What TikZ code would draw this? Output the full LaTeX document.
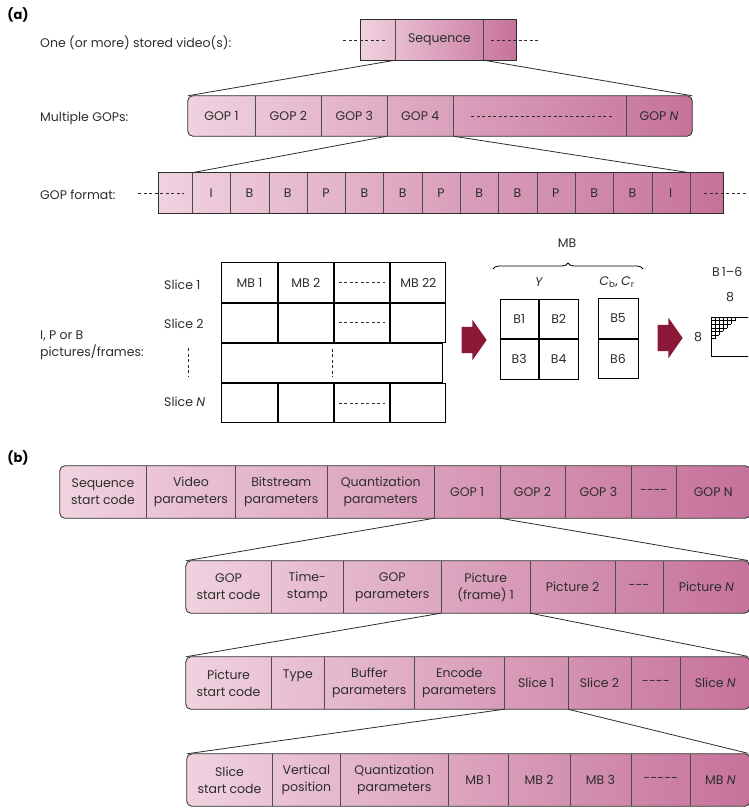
\documentclass[tikz,border=0pt]{standalone}
\usepackage{fontspec}
\setmainfont{Poppins}
\usetikzlibrary{positioning,backgrounds,shapes.arrows,decorations.pathreplacing}
\definecolor{pinklight}{RGB}{240,210,223}
\definecolor{pinkdark}{RGB}{198,114,154}
\definecolor{arrowred}{RGB}{140,24,56}
\definecolor{inkgray}{RGB}{45,45,45}

\begin{document}
\begin{tikzpicture}[x=1pt, y=-1pt, node distance=0pt, inner sep=0pt, text=inkgray,
        font=\fontsize{12.5}{17}\selectfont,
        cell/.style={minimum height=40pt, align=center},
        tallcell/.style={minimum height=52pt, align=center},
        bar/.style={draw=inkgray, line width=0.8pt, left color=pinklight, right color=pinkdark},
        roundbar/.style={bar, rounded corners=5pt},
        divider/.style={draw=inkgray!85, line width=0.6pt},
        dashes/.style={draw=inkgray, line width=0.9pt, dash pattern=on 3pt off 2.5pt},
        fan/.style={draw=inkgray, line width=0.8pt},
        tab/.style={draw=black, line width=1pt, minimum width=55.25pt, minimum height=39.25pt},
        blockarrow/.style={single arrow, fill=arrowred, minimum height=25pt, minimum width=40pt,
            inner xsep=0pt, inner ysep=13pt, single arrow head extend=7pt, single arrow tip angle=110},
        leftlabel/.style={anchor=west, align=left},
        partlabel/.style={font=\bfseries\fontsize{13}{15}\selectfont, text=black}]
        \path[use as bounding box] (0,0) rectangle (748,808);
        \clip (0,0) rectangle (748,808);

        % (a) stored video
        \node[partlabel] (parta) at (18,15) {(a)};
        \node[leftlabel] (vidtxt) at (40,43) {One (or more) stored video(s):};
        \node[cell, minimum width=34pt] (seqL) at (378,40) {};
        \node[cell, minimum width=88pt, right=of seqL] (seq) {Sequence};
        \node[cell, minimum width=32pt, right=of seq] (seqR) {};
        \draw[divider] (seqL.north east) -- (seqL.south east);
        \draw[divider] (seq.north east) -- (seq.south east);
        \draw[dashes] (343,40) -- (386,40);
        \draw[dashes] (491,40) -- (539,40);

        % multiple GOPs
        \node[leftlabel] (goptxt) at (40,118) {Multiple GOPs:};
        \node[cell, minimum width=67pt] (gop1) at (221.5,116) {GOP 1};
        \node[cell, minimum width=66pt, right=of gop1] (gop2) {GOP 2};
        \node[cell, minimum width=65pt, right=of gop2] (gop3) {GOP 3};
        \node[cell, minimum width=66pt, right=of gop3] (gop4) {GOP 4};
        \node[cell, minimum width=172pt, right=of gop4] (gopdots) {};
        \node[cell, minimum width=66pt, right=of gopdots] (gopN) {GOP \textit{N}};
        \foreach \c in {gop1,gop2,gop3,gop4,gopdots}
            \draw[divider] (\c.north east) -- (\c.south east);
        \draw[dashes] ([xshift=18pt]gopdots.west) -- ([xshift=-14pt]gopdots.east);
        \path[fan] (seq.south west) edge (gop1.north west);
        \path[fan] (seq.south east) edge (gopN.north east);

        % GOP format
        \node[leftlabel] (fmttxt) at (40,195) {GOP format:};
        \node[cell, minimum width=33pt] (fmtL) at (175.5,193) {};
        \foreach \t [count=\i] in {I,B,B,P,B,B,P,B,B,P,B,B,I}
            \node[cell, minimum width=38.3pt] (f\i) at ({192+38.3*(\i-0.5)},193) {\t};
        \node[cell, minimum width=33pt, right=of f13] (fmtR) {};
        \foreach \c in {fmtL,f1,f2,f3,f4,f5,f6,f7,f8,f9,f10,f11,f12,f13}
            \draw[divider] (\c.north east) -- (\c.south east);
        \draw[dashes] (138,193) -- (184,193);
        \draw[dashes] (704,193) -- (748,193);
        \path[fan] (gop4.south west) edge (f1.north west);
        \path[fan] (gop4.south east) edge (f13.north east);

        % slices of a picture
        \node[leftlabel] (pictxt) at (40,345) {I, P or B\\pictures/frames:};
        \node[leftlabel] (slicelbl1) at (164,285) {Slice 1};
        \node[leftlabel] (slicelbl2) at (164,324) {Slice 2};
        \node[leftlabel] (slicelblN) at (164,402) {Slice \textit{N}};
        \draw[dashes] (188,348) -- (188,376);
        \node[tab] (s1a) at (249.6,282.6) {MB 1};
        \node[tab, right=of s1a] (s1b) {MB 2};
        \node[tab, right=of s1b] (s1c) {};
        \node[tab, right=of s1c] (s1d) {MB 22};
        \node[tab, below=of s1a] (s2a) {};
        \node[tab, right=of s2a] (s2b) {};
        \node[tab, right=of s2b] (s2c) {};
        \node[tab, right=of s2c] (s2d) {};
        \node[tab, minimum width=221pt, anchor=north west] (s3) at (s2a.south west) {};
        \node[tab, anchor=north west] (sNa) at (s3.south west) {};
        \node[tab, right=of sNa] (sNb) {};
        \node[tab, right=of sNb] (sNc) {};
        \node[tab, right=of sNc] (sNd) {};
        \foreach \c in {s1c,s2c,sNc}
            \draw[dashes] ([xshift=5pt]\c.west) -- ([xshift=-5pt]\c.east);
        \draw[dashes] ([yshift=-6pt]s3.north) -- ([yshift=6pt]s3.south);

        % macroblock
        \node[blockarrow] (arr1) at (469.5,340) {};
        \node (mbtxt) at (567,243) {MB};
        \draw[decorate, decoration={brace, amplitude=6pt}, line width=0.8pt] (493,269) -- (643,269);
        \node (ytxt) at (539,282) {\textit{Y}};
        \node (ctxt) at (617,282) {\textit{C}\textsubscript{b}, \textit{C}\textsubscript{r}};
        \node[tab, minimum width=38.5pt, minimum height=39.5pt] (b1) at (519.25,318.75) {B1};
        \node[tab, minimum width=38.5pt, minimum height=39.5pt, right=of b1] (b2) {B2};
        \node[tab, minimum width=38.5pt, minimum height=39.5pt, below=of b1] (b3) {B3};
        \node[tab, minimum width=38.5pt, minimum height=39.5pt, right=of b3] (b4) {B4};
        \node[tab, minimum width=40pt, minimum height=39.5pt] (b5) at (618,318.25) {B5};
        \node[tab, minimum width=40pt, minimum height=39.5pt, below=of b5] (b6) {B6};
        \node[blockarrow] (arr2) at (665.5,338) {};

        % 8x8 block
        \node[anchor=west] (blktxt) at (712,272) {B\,1–6};
        \node (blktop) at (730,297) {8};
        \node (blkleft) at (698,337) {8};
        \node[draw=black, line width=1pt, minimum width=80pt, minimum height=39pt,
            anchor=north west] (blk) at (711,317) {};
        \foreach \k in {1,...,6} {
            \draw[line width=0.6pt] (711,{317+3.6*\k}) -- ({711+4*(7-\k)},{317+3.6*\k});
            \draw[line width=0.6pt] ({711+4*\k},317) -- ({711+4*\k},{317+3.6*(7-\k)});
        }

        % (b) sequence
        \node[partlabel] (partb) at (18,458) {(b)};
        \node[tallcell, minimum width=86pt] (sc) at (103,492) {Sequence\\start code};
        \node[tallcell, minimum width=89pt, right=of sc] (vp) {Video\\parameters};
        \node[tallcell, minimum width=91pt, right=of vp] (bp) {Bitstream\\parameters};
        \node[tallcell, minimum width=107pt, right=of bp] (qp) {Quantization\\parameters};
        \node[tallcell, minimum width=65pt, right=of qp] (g1) {GOP 1};
        \node[tallcell, minimum width=65pt, right=of g1] (g2) {GOP 2};
        \node[tallcell, minimum width=66pt, right=of g2] (g3) {GOP 3};
        \node[tallcell, minimum width=44pt, right=of g3] (gd) {-{}-{}-{}-};
        \node[tallcell, minimum width=74pt, right=of gd] (gN) {GOP N};
        \foreach \c in {sc,vp,bp,qp,g1,g2,g3,gd}
            \draw[divider] (\c.north east) -- (\c.south east);

        % GOP
        \node[tallcell, minimum width=85pt] (gsc) at (228.5,587) {GOP\\start code};
        \node[tallcell, minimum width=72pt, right=of gsc] (ts) {Time-\\stamp};
        \node[tallcell, minimum width=97pt, right=of ts] (gp) {GOP\\parameters};
        \node[tallcell, minimum width=89pt, right=of gp] (pic1) {Picture\\(frame) 1};
        \node[tallcell, minimum width=84pt, right=of pic1] (pic2) {Picture 2};
        \node[tallcell, minimum width=48pt, right=of pic2] (pd) {-{}-{}-};
        \node[tallcell, minimum width=86pt, right=of pd] (picN) {Picture \textit{N}};
        \foreach \c in {gsc,ts,gp,pic1,pic2,pd}
            \draw[divider] (\c.north east) -- (\c.south east);
        \path[fan] (g1.south west) edge (gsc.north west);
        \path[fan] (g1.south east) edge (picN.north east);

        % picture
        \node[tallcell, minimum width=85pt] (psc) at (228.5,683) {Picture\\start code};
        \node[tallcell, minimum width=53pt, right=of psc] (ty) {Type\\\mbox{}};
        \node[tallcell, minimum width=89pt, right=of ty] (bfp) {Buffer\\parameters};
        \node[tallcell, minimum width=90pt, right=of bfp] (ep) {Encode\\parameters};
        \node[tallcell, minimum width=63pt, right=of ep] (sliceA) {Slice 1};
        \node[tallcell, minimum width=63pt, right=of sliceA] (sliceB) {Slice 2};
        \node[tallcell, minimum width=49pt, right=of sliceB] (sdt) {-{}-{}-{}-};
        \node[tallcell, minimum width=69pt, right=of sdt] (sliceN) {Slice \textit{N}};
        \foreach \c in {psc,ty,bfp,ep,sliceA,sliceB,sdt}
            \draw[divider] (\c.north east) -- (\c.south east);
        \path[fan] (pic1.south west) edge (psc.north west);
        \path[fan] (pic1.south east) edge (sliceN.north east);

        % slice
        \node[tallcell, minimum width=85pt] (ssc) at (229.5,780) {Slice\\start code};
        \node[tallcell, minimum width=68pt, right=of ssc] (vpos) {Vertical\\position};
        \node[tallcell, minimum width=107pt, right=of vpos] (qpar) {Quantization\\parameters};
        \node[tallcell, minimum width=60pt, right=of qpar] (mbA) {MB 1};
        \node[tallcell, minimum width=61pt, right=of mbA] (mbB) {MB 2};
        \node[tallcell, minimum width=61pt, right=of mbB] (mbC) {MB 3};
        \node[tallcell, minimum width=59pt, right=of mbC] (mbdt) {-{}-{}-{}-{}-};
        \node[tallcell, minimum width=59pt, right=of mbdt] (mbN) {MB \textit{N}};
        \foreach \c in {ssc,vpos,qpar,mbA,mbB,mbC,mbdt}
            \draw[divider] (\c.north east) -- (\c.south east);
        \path[fan] (sliceA.south west) edge (ssc.north west);
        \path[fan] (sliceA.south east) edge (mbN.north east);

        % bars behind the cells
        \begin{scope}[on background layer]
            \path[bar] (seqL.north west) rectangle (seqR.south east);
            \path[roundbar] (gop1.north west) rectangle (gopN.south east);
            \path[bar] (fmtL.north west) rectangle (fmtR.south east);
            \path[roundbar] (sc.north west) rectangle (gN.south east);
            \path[roundbar] (gsc.north west) rectangle (picN.south east);
            \path[roundbar] (psc.north west) rectangle (sliceN.south east);
            \path[roundbar] (ssc.north west) rectangle (mbN.south east);
        \end{scope}
\end{tikzpicture}
\end{document}
